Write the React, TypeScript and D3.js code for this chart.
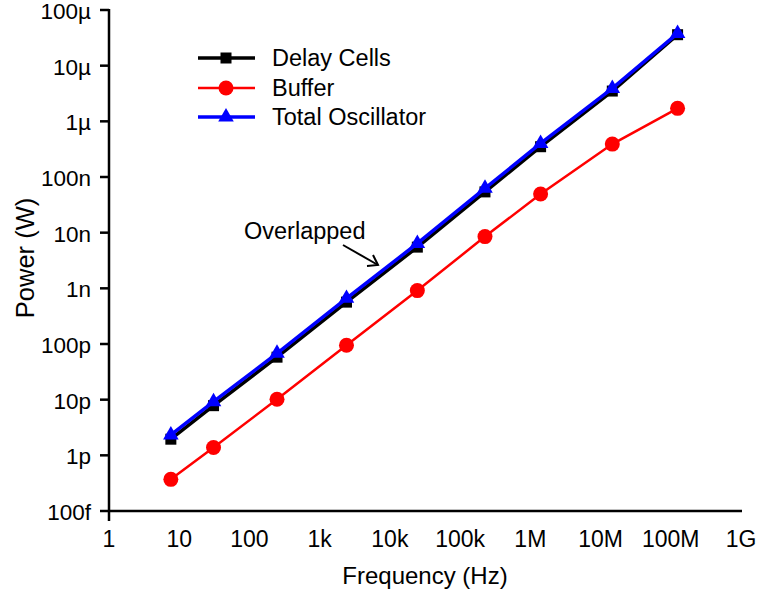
import React from "react";
import * as d3 from "d3";

const frequencies = [7.6, 30.8, 247, 2410, 24600, 226000, 1.4e6, 14.7e6, 125e6];
const delayCells = [1.95e-12, 7.8e-12, 58e-12, 0.565e-9, 5.5e-9, 54e-9, 0.35e-6, 3.5e-6, 36e-6];
const buffer = [0.37e-12, 1.38e-12, 10.2e-12, 95e-12, 0.91e-9, 8.5e-9, 49.5e-9, 0.39e-6, 1.71e-6];
const totalOscillator = [2.32e-12, 9.2e-12, 68e-12, 0.66e-9, 6.4e-9, 62.7e-9, 0.4e-6, 3.9e-6, 38e-6];

const xTickValues = [1, 10, 100, 1e3, 1e4, 1e5, 1e6, 1e7, 1e8, 1e9];
const xTickLabels = ["1", "10", "100", "1k", "10k", "100k", "1M", "10M", "100M", "1G"];
const yTickValues = [1e-13, 1e-12, 1e-11, 1e-10, 1e-9, 1e-8, 1e-7, 1e-6, 1e-5, 1e-4];
const yTickLabels = ["100f", "1p", "10p", "100p", "1n", "10n", "100n", "1µ", "10µ", "100µ"];

const seriesNames = ["Delay Cells", "Buffer", "Total Oscillator"];
const seriesColors = ["#000000", "#ff0000", "#0000ff"];

const FONT = "'Liberation Sans', Arial, sans-serif";

function Marker({ kind, x, y, color }: { kind: number; x: number; y: number; color: string }) {
  if (kind === 0) {
    const s = 11;
    return <rect x={x - s / 2} y={y - s / 2} width={s} height={s} fill={color} />;
  }
  if (kind === 1) {
    return <circle cx={x} cy={y} r={7.5} fill={color} />;
  }
  const sym = d3.symbol().type(d3.symbolTriangle).size(105)();
  return <path d={sym as string} transform={`translate(${x},${y})`} fill={color} />;
}

export default function App() {
  const W = 760;
  const H = 599;
  const x = d3.scaleLog().domain([1, 1e9]).range([109, 741]);
  const y = d3.scaleLog().domain([1e-13, 1e-4]).range([511, 10]);

  const series = [delayCells, buffer, totalOscillator];
  const widths = [3.5, 2.5, 3.5];
  const line = d3
    .line<[number, number]>()
    .x((d) => x(d[0]))
    .y((d) => y(d[1]));

  const legendY = [58, 88, 117];

  return (
    <svg
      width={W}
      height={H}
      style={{ position: "absolute", left: 0, top: 0, background: "#fff" }}
      fontFamily={FONT}
    >
      <rect width={W} height={H} fill="#fff" />
      {/* axes */}
      <line x1={109} x2={109} y1={9} y2={521} stroke="#000" strokeWidth={2.5} />
      <line x1={108} x2={742} y1={511} y2={511} stroke="#000" strokeWidth={2.5} />
      {yTickValues.map((v, i) => (
        <g key={"yt" + i}>
          <line x1={100} x2={109} y1={y(v)} y2={y(v)} stroke="#000" strokeWidth={2.5} />
          <text x={91} y={y(v) + 1} dy="0.36em" textAnchor="end" fontSize={22.5}>
            {yTickLabels[i]}
          </text>
        </g>
      ))}
      {xTickValues.map((v, i) => (
        <text key={"xt" + i} x={x(v)} y={547} textAnchor="middle" fontSize={23}>
          {xTickLabels[i]}
        </text>
      ))}
      <text x={425} y={584} textAnchor="middle" fontSize={24}>
        Frequency (Hz)
      </text>
      <text transform="translate(34,258) rotate(-90)" textAnchor="middle" fontSize={25.5}>
        Power (W)
      </text>

      {/* series */}
      {series.map((vals, si) => {
        const pts = frequencies.map((f, i) => [f, vals[i]] as [number, number]);
        return (
          <g key={"s" + si}>
            <path d={line(pts) as string} fill="none" stroke={seriesColors[si]} strokeWidth={widths[si]} />
            {pts.map((p, i) => (
              <Marker key={i} kind={si} x={x(p[0])} y={y(p[1])} color={seriesColors[si]} />
            ))}
          </g>
        );
      })}

      {/* legend */}
      {seriesNames.map((name, i) => (
        <g key={"lg" + i}>
          <line x1={198} x2={255} y1={legendY[i]} y2={legendY[i]} stroke={seriesColors[i]} strokeWidth={widths[i]} />
          <Marker kind={i} x={226} y={legendY[i]} color={seriesColors[i]} />
          <text x={272} y={legendY[i]} dy="0.36em" fontSize={23.5}>
            {name}
          </text>
        </g>
      ))}

      {/* annotation */}
      <text x={244} y={239} fontSize={23.5}>
        Overlapped
      </text>
      <line x1={343} y1={245} x2={378} y2={265} stroke="#000" strokeWidth={2} />
      <polyline points="367,266 378,265 373,255" fill="none" stroke="#000" strokeWidth={2} />
    </svg>
  );
}
